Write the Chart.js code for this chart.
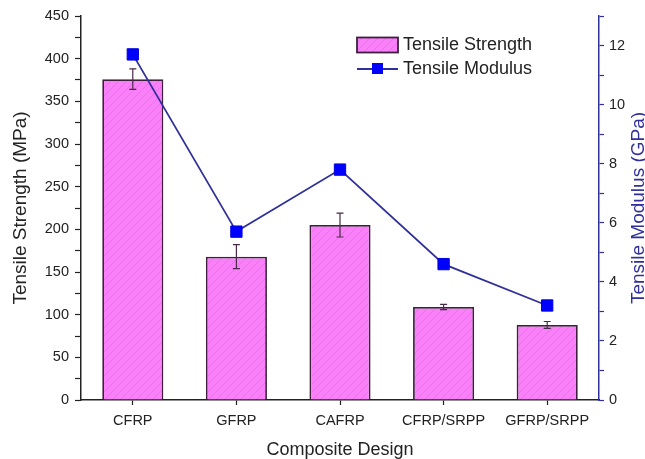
<!DOCTYPE html>
<html>
<head>
<meta charset="utf-8">
<script src="https://cdn.jsdelivr.net/npm/chart.js@4.4.1/dist/chart.umd.min.js"></script>
<style>
    html, body { margin: 0; padding: 0; background: #fff; overflow: hidden; }
    #chart { display: block; }
</style>
</head>
<body>
<canvas id="chart" width="645" height="459"></canvas>
<script>
// ----------------- Data -----------------
const categories = ['CFRP', 'GFRP', 'CAFRP', 'CFRP/SRPP', 'GFRP/SRPP'];
const strength = [376, 168, 205, 109, 88];        // MPa
const strengthErr = [12, 14, 14, 3, 4];           // MPa (+/-)
const modulus = [11.7, 5.7, 7.8, 4.6, 3.2];       // GPa

const strengthLabel = 'Tensile Strength';
const modulusLabel = 'Tensile Modulus';
const leftTitle = 'Tensile Strength (MPa)';
const rightTitle = 'Tensile Modulus (GPa)';
const xTitle = 'Composite Design';

const FONT = '"Liberation Sans", Arial, sans-serif';
const NAVY = '#30309a';
const BAR_EDGE = '#3e203e';

// hatched magenta fill for bars
function makeHatch() {
    const c = document.createElement('canvas');
    c.width = 8; c.height = 8;
    const g = c.getContext('2d');
    g.fillStyle = '#fa80fa';
    g.fillRect(0, 0, 8, 8);
    g.strokeStyle = '#ec70ec';
    g.lineWidth = 1;
    g.beginPath();
    g.moveTo(-1, 9); g.lineTo(9, -1);
    g.moveTo(-1, 1); g.lineTo(1, -1);
    g.moveTo(7, 9); g.lineTo(9, 7);
    g.stroke();
    return g.createPattern(c, 'repeat');
}
const hatch = makeHatch();

// ----------------- Plugins -----------------
const errorBars = {
    id: 'errorBars',
    afterDatasetsDraw(chart) {
        const meta = chart.getDatasetMeta(0);
        const y = chart.scales.y;
        const ctx = chart.ctx;
        ctx.save();
        ctx.strokeStyle = '#4a2a4a';
        ctx.lineWidth = 1.2;
        meta.data.forEach((bar, i) => {
            const top = y.getPixelForValue(strength[i] + strengthErr[i]);
            const bot = y.getPixelForValue(strength[i] - strengthErr[i]);
            ctx.beginPath();
            ctx.moveTo(bar.x, top); ctx.lineTo(bar.x, bot);
            ctx.moveTo(bar.x - 3.5, top); ctx.lineTo(bar.x + 3.5, top);
            ctx.moveTo(bar.x - 3.5, bot); ctx.lineTo(bar.x + 3.5, bot);
            ctx.stroke();
        });
        ctx.restore();
    }
};

const customLegend = {
    id: 'customLegend',
    afterDraw(chart) {
        const ctx = chart.ctx;
        const x0 = 357, y0 = 45, row = 24;
        ctx.save();
        // bar entry
        ctx.fillStyle = hatch;
        ctx.fillRect(x0, y0 - 7.5, 41, 15);
        ctx.strokeStyle = BAR_EDGE;
        ctx.lineWidth = 1.8;
        ctx.strokeRect(x0, y0 - 7.5, 41, 15);
        // line entry
        const y1 = y0 + row;
        ctx.strokeStyle = NAVY;
        ctx.lineWidth = 1.8;
        ctx.beginPath();
        ctx.moveTo(x0, y1); ctx.lineTo(x0 + 41, y1);
        ctx.stroke();
        ctx.fillStyle = '#0000ff';
        ctx.fillRect(x0 + 15, y1 - 6, 11, 11);
        // text
        ctx.fillStyle = '#222';
        ctx.font = '18px ' + FONT;
        ctx.textBaseline = 'middle';
        ctx.textAlign = 'left';
        ctx.fillText(strengthLabel, x0 + 46, y0);
        ctx.fillText(modulusLabel, x0 + 46, y1);
        ctx.restore();
    }
};

const rightAxisTitle = {
    id: 'rightAxisTitle',
    afterDraw(chart) {
        const ctx = chart.ctx;
        const area = chart.chartArea;
        ctx.save();
        ctx.translate(639, (area.top + area.bottom) / 2);
        ctx.rotate(-Math.PI / 2);
        ctx.fillStyle = NAVY;
        ctx.font = '19px ' + FONT;
        ctx.textAlign = 'center';
        ctx.textBaseline = 'middle';
        ctx.fillText(rightTitle, 0, 0);
        ctx.restore();
    }
};

// ----------------- Chart -----------------
new Chart(document.getElementById('chart'), {
    data: {
        labels: categories,
        datasets: [
            {
                type: 'bar',
                label: strengthLabel,
                data: strength,
                yAxisID: 'y',
                backgroundColor: hatch,
                borderColor: BAR_EDGE,
                borderWidth: 1.8,
                barPercentage: 0.59,
                categoryPercentage: 1,
                order: 2
            },
            {
                type: 'line',
                label: modulusLabel,
                data: modulus,
                yAxisID: 'y1',
                borderColor: NAVY,
                borderWidth: 1.8,
                pointStyle: 'rect',
                pointRadius: 8,
                pointBackgroundColor: '#0000ff',
                pointBorderColor: '#0000dd',
                pointBorderWidth: 1,
                tension: 0,
                order: 1
            }
        ]
    },
    options: {
        responsive: false,
        devicePixelRatio: 1,
        animation: false,
        layout: { padding: { top: 16, left: 0, right: 0, bottom: 0 } },
        plugins: {
            legend: { display: false },
            tooltip: { enabled: false }
        },
        scales: {
            x: {
                grid: { display: true, drawOnChartArea: false, offset: false, tickLength: 5, tickColor: '#222', tickWidth: 1.2 },
                border: { color: '#222', width: 1.5 },
                ticks: { color: '#222', padding: 7, font: { size: 14.5, family: FONT }, maxRotation: 0 },
                title: { display: true, text: xTitle, color: '#222', padding: { top: 0, bottom: 0 }, font: { size: 18, family: FONT, lineHeight: 1 } },
                afterFit(s) { s.height = 59; }
            },
            y: {
                position: 'left',
                min: 0,
                max: 450,
                grid: { display: true, drawOnChartArea: false, tickLength: 6, tickColor: '#222', tickWidth: 1.2 },
                border: { color: '#222', width: 1.5 },
                ticks: {
                    stepSize: 25,
                    padding: 6,
                    color: '#222',
                    font: { size: 14.5, family: FONT },
                    callback: v => (v % 50 === 0 ? v : '')
                },
                title: { display: true, text: leftTitle, color: '#222', padding: { top: 11, bottom: 0 }, font: { size: 19, family: FONT, lineHeight: 1 } },
                afterFit(s) { s.width = 81; }
            },
            y1: {
                position: 'right',
                min: 0,
                max: 13,
                grid: { display: true, drawOnChartArea: false, tickLength: 5, tickColor: NAVY, tickWidth: 1.2 },
                border: { color: NAVY, width: 1.5 },
                ticks: {
                    stepSize: 1,
                    padding: 5,
                    color: '#222',
                    font: { size: 14.5, family: FONT },
                    callback: v => (v % 2 === 0 ? v : '')
                },
                afterFit(s) { s.width = 46; }
            }
        }
    },
    plugins: [errorBars, customLegend, rightAxisTitle]
});
</script>
</body>
</html>
